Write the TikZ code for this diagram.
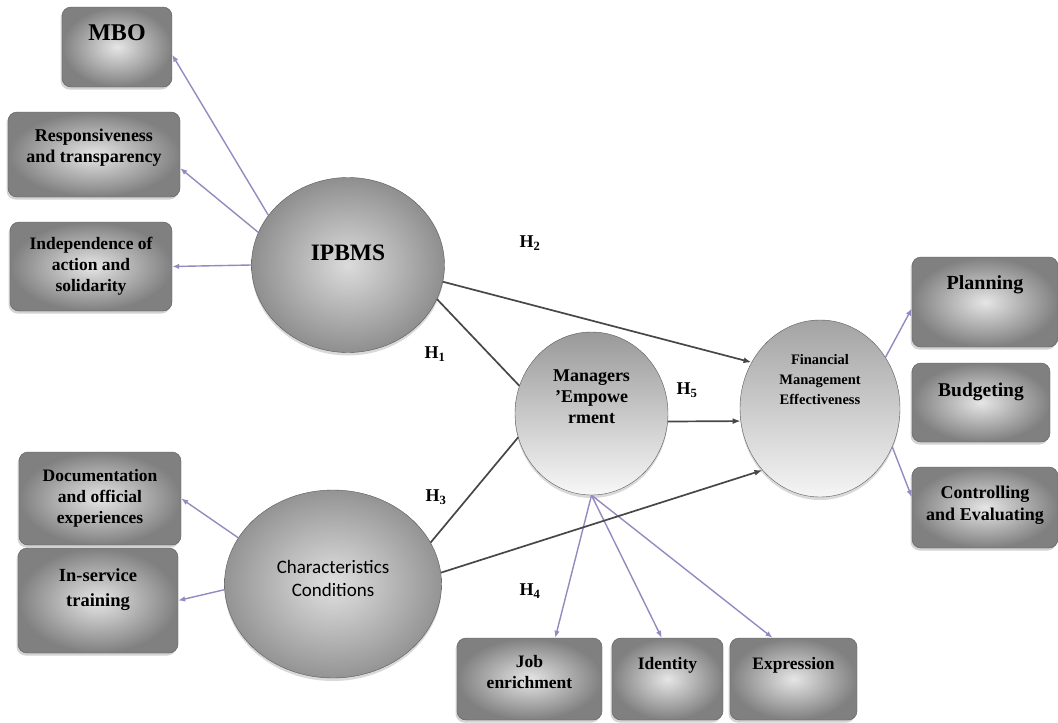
\documentclass[tikz,border=0pt]{standalone}
\usepackage{fontspec}
\setmainfont{Liberation Serif}
\newfontfamily\carlito{Carlito}
\usetikzlibrary{arrows.meta, shapes.geometric, shadows}

\definecolor{linkpurple}{RGB}{150,136,192}
\definecolor{edgegray}{RGB}{90,90,90}

\begin{document}
\begin{tikzpicture}[
        x=1pt, y=-1pt,
        box/.style={
            draw=edgegray,
            rounded corners=9pt,
            align=center,
            inner sep=2pt,
            font=\bfseries\fontsize{17.5}{21}\selectfont,
            inner color=black!10,
            outer color=black!50,
            drop shadow={shadow xshift=-1.5pt, shadow yshift=-2.5pt, opacity=0.35}
        },
        bubble/.style={
            ellipse,
            draw=edgegray,
            align=center,
            inner sep=1pt,
            font=\bfseries\fontsize{18}{21}\selectfont,
            drop shadow={shadow xshift=0pt, shadow yshift=-3pt, opacity=0.3}
        },
        link/.style={-{Latex[length=7pt, width=5.5pt]}, draw=linkpurple, line width=1.4pt},
        effect/.style={draw=black!72, line width=1.7pt},
        effarrow/.style={effect, -{Latex[length=8pt, width=6pt]}},
        hyp/.style={font=\bfseries\fontsize{18}{20}\selectfont, inner sep=0pt}
    ]
    \useasboundingbox (0,0) rectangle (1058,723);

    % left side: IPBMS and its dimensions
    \node[box, minimum width=110pt, minimum height=80pt, text depth=28pt,
          font=\bfseries\fontsize{24}{26}\selectfont] (mbo) at (117,47) {MBO};
    \node[box, minimum width=172pt, minimum height=85pt, text depth=17pt,
          font=\bfseries\fontsize{18}{21}\selectfont] (resp) at (94,154.5) {Responsiveness\\and transparency};
    \node[box, minimum width=162pt, minimum height=89pt] (indep) at (91,266.5) {Independence of\\action and\\solidarity};
    \node[bubble, minimum width=193pt, minimum height=175pt, text depth=24pt,
          inner color=black!14, outer color=black!44,
          font=\bfseries\fontsize{23.5}{26}\selectfont] (ipbms) at (348,265) {IPBMS};

    % left side: characteristics
    \node[box, minimum width=162pt, minimum height=93pt] (doc) at (100,498.5) {Documentation\\and official\\experiences};
    \node[box, minimum width=160pt, minimum height=105pt, text depth=26pt,
          font=\bfseries\fontsize{18.5}{25}\selectfont] (insvc) at (98,600.5) {In-service\\training};
    \node[bubble, minimum width=217pt, minimum height=188pt, text depth=11pt,
          inner color=black!12, outer color=black!42,
          font=\carlito\fontsize{19}{23}\selectfont] (chars) at (333,584) {Characteristics\\Conditions};

    % middle: mediator
    \node[bubble, minimum width=153pt, minimum height=163pt, text depth=33pt,
          top color=black!40, bottom color=black!3] (mgr) at (591.5,413.5) {Managers\\’Empowe\\rment};
    \node[box, minimum width=145pt, minimum height=82pt, text depth=14pt] (job) at (529.5,679) {Job\\enrichment};
    \node[box, minimum width=111pt, minimum height=82pt, text depth=32pt] (iden) at (667.5,679) {Identity};
    \node[box, minimum width=127pt, minimum height=82pt, text depth=32pt] (expr) at (793.5,679) {Expression};

    % right side: outcome
    \node[bubble, minimum width=160pt, minimum height=177pt, text depth=58pt,
          top color=black!36, bottom color=black!4,
          font=\bfseries\fontsize{14.5}{20}\selectfont] (fin) at (820,408.5) {Financial\\Management\\Effectiveness};
    \node[box, minimum width=146pt, minimum height=90pt, text depth=38pt,
          font=\bfseries\fontsize{20}{22}\selectfont] (plan) at (985,302) {Planning};
    \node[box, minimum width=138pt, minimum height=79pt, text depth=25pt,
          font=\bfseries\fontsize{19.5}{22}\selectfont] (budg) at (981,402.5) {Budgeting};
    \node[box, minimum width=146pt, minimum height=81pt, text depth=8pt,
          font=\bfseries\fontsize{18}{22}\selectfont] (ctrl) at (985,507.5) {Controlling\\and Evaluating};

    % hypotheses
    \node[hyp] (h1) at (435,354) {H\textsubscript{1}};
    \node[hyp] (h2) at (530,243) {H\textsubscript{2}};
    \node[hyp] (h3) at (436,497) {H\textsubscript{3}};
    \node[hyp] (h4) at (530,591) {H\textsubscript{4}};
    \node[hyp] (h5) at (687,390) {H\textsubscript{5}};

    % dimensions
    \draw[link] (ipbms.148) -- (mbo.-8);
    \draw[link] (ipbms.160) -- (resp.-9);
    \draw[link] (ipbms.west) -- (indep.east);
    \draw[link] (chars.154) -- (doc.east);
    \draw[link] (chars.183) -- (insvc.east);
    \draw[link] (mgr.south) -- (job.58);
    \draw[link] (mgr.south) -- (iden.98);
    \draw[link] (mgr.south) -- (expr.117);
    \draw[link] (fin.38) -- (plan.185);
    \draw[link] (fin.-28) -- (ctrl.172);

    % paths
    \draw[effect] (ipbms.-21) -- (mgr.159);
    \draw[effect] (chars.23) -- (mgr.198);
    \draw[effarrow] (ipbms.-10) -- (fin.146);
    \draw[effarrow] (chars.6) -- (fin.227);
    \draw[effarrow] (mgr.-6) -- (fin.189);
\end{tikzpicture}
\end{document}
